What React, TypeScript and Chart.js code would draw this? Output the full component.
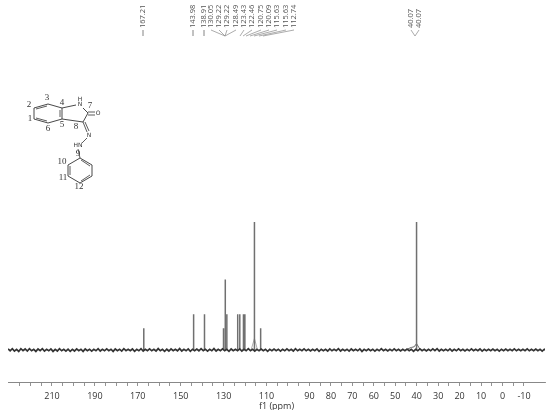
import React, { useEffect, useRef } from "react";
import { Chart, registerables } from "chart.js";

Chart.register(...registerables);

const peakPpm = [167.21, 143.98, 138.91, 130.05, 129.22, 128.49, 123.43, 122.46, 120.75, 120.09, 115.63, 112.74, 40.07];
const peakHeight = [17, 28, 28, 17, 55, 28, 28, 28, 28, 28, 100, 17, 100];
const shoulderPpm = [117.2, 115.63, 114.2];
const shoulderHeight = [0, 9, 0];
const solventPpm = [44, 42.5, 41.2, 40.07, 39, 38.2];
const solventHeight = [1, 2, 2.5, 5, 2, 0];
const baselineStartPpm = 230.5;
const baselineNoise = [
  0.8,-0.6,1,-0.9,0.5,-1.1,1,-0.5,0.8,-0.8,1,-0.6,0.5,-1.1,0.8,-0.5,1,-0.9,0.5,-0.6,0.9,-1.1,0.5,-0.8,1,-0.6,0.5,-0.9,0.6,-1,
  0.5,-0.8,0.9,-0.5,0.6,-1.1,0.8,-0.5,0.6,-0.9,0.5,-0.6,1,-0.8,0.5,-0.6,0.9,-0.5,0.6,-1.1,0.8,-0.5,0.6,-0.9,1,-0.5,0.6,-0.6,0.8,-1,
  0.5,-0.6,1,-0.8,0.6,-0.5,0.9,-0.6,0.5,-0.8,1.1,-0.6,0.5,-1,0.6,-0.8,0.9,-0.5,0.6,-0.6,1.1,-0.8,0.5,-0.6,0.9,-1,0.6,-0.5,0.8,-0.6,
  1,-0.5,0.6,-0.9,0.5,-0.6,1.1,-0.8,0.6,-0.5,0.9,-0.6,0.5,-1,0.8,-0.6,0.5,-0.6,0.9,-0.8,0.5,-0.6,1,-0.5,0.6,-0.9,0.5,-0.6,0.8,-0.5,
  0.6,-1.1,0.5,-0.6,0.8,-0.5,0.6,-0.9,0.5,-0.6,0.9,-0.5,0.6,-0.8,1,-0.6,0.5,-0.5,0.9,-0.6,0.5,-0.8,0.6,-0.5,0.9,-1,0.6,-0.5,0.5,-0.8,
  0.9,-0.6,0.5,-0.5,1,-0.8,0.6,-0.5,0.6,-0.9,0.8,-0.6,0.5,-0.6,0.9,-1.1,0.5,-0.6,0.8,-0.5,0.6,-0.9,0.5,-0.6,1,-0.5,0.6,-0.8,0.5,-0.6,
  0.9,-0.5,0.6,-0.8,0.5,-0.6,0.8,-0.5,0.6,-1,0.5,-0.6,0.9,-0.5,0.6,-0.8,0.5,-0.6,0.9,-0.5,1,-0.8,0.6,-0.5,0.5,-0.6,0.9,-0.8,0.5,-0.6,
  0.9,-0.5,0.6,-0.8,0.5,-0.6,0.9,-0.5,0.6,-0.6,0.8,-0.9,0.5,-0.6,0.5,-0.5,0.8,-0.6,0.5,-0.9,0.6,-0.5,0.8,-0.6,0.5,-0.5,0.9,-0.6,0.5,-0.6,
  0.6,-0.5,0.9,-0.6,0.5,-0.5,0.8,-0.6,0.5,-0.9,0.6,-0.5,0.4,
];
const tickLabels = [210, 190, 170, 150, 130, 110, 90, 80, 70, 60, 50, 40, 30, 20, 10, 0, -10];
const axisTitle = "f1 (ppm)";
const mainLabels = ["167.21", "143.98", "138.91"];
const groupLabels = ["130.05", "129.22", "129.22", "128.49", "123.43", "122.46", "120.75", "120.09", "115.63", "115.63", "112.74"];
const solventLabels = ["40.07", "40.07"];
const atomNumbers: [string, number, number][] = [
  ["1", 30, 119], ["2", 29, 105], ["3", 47, 98], ["4", 62, 103], ["5", 62, 125], ["6", 48, 129],
  ["7", 90, 106], ["8", 76, 127], ["9", 78, 154], ["10", 62, 162], ["11", 63, 178], ["12", 79, 187],
];
const atomSymbols: [string, number, number][] = [
  ["H", 80, 99], ["N", 80, 104], ["O", 98, 113], ["N", 89, 135], ["HN", 78, 145],
];

const annotations = {
  id: "annotations",
  afterDraw(chart: Chart) {
    const c = chart.ctx;
    c.save();
    const seg = (pts: number[][], color = "#666", w = 0.8) => {
      c.strokeStyle = color;
      c.lineWidth = w;
      c.beginPath();
      pts.forEach(([x, y], i) => (i ? c.lineTo(x, y) : c.moveTo(x, y)));
      c.stroke();
    };
    const vText = (t: string, x: number, bottom: number) => {
      c.save();
      c.translate(x, bottom);
      c.rotate(-Math.PI / 2);
      c.textAlign = "left";
      c.textBaseline = "middle";
      c.fillStyle = "#555";
      c.font = "7.5px 'Open Sans'";
      c.fillText(t, 0, 0);
      c.restore();
    };
    vText(mainLabels[0], 143, 28);
    vText(mainLabels[1], 193, 28);
    vText(mainLabels[2], 204, 28);
    seg([[143, 30], [143, 36]]);
    seg([[193, 30], [193, 36]]);
    seg([[204, 30], [204, 36]]);
    const gx = [211, 219, 227, 236, 244, 252, 261, 269, 277, 286, 294];
    groupLabels.forEach((t, i) => vText(t, gx[i], 28));
    for (let i = 0; i < 4; i++) seg([[gx[i], 30], [225, 36]], "#888", 0.7);
    const ends = [240, 243, 246, 250, 254, 259, 263];
    for (let i = 4; i < 11; i++) seg([[gx[i], 30], [ends[i - 4], 36]], "#888", 0.7);
    vText(solventLabels[0], 411, 28);
    vText(solventLabels[1], 419, 28);
    seg([[411, 30], [415, 36], [419, 30]], "#888", 0.7);

    const bond = "#333";
    seg([[62, 108], [48, 104], [34, 108], [34, 119], [48, 123], [62, 119], [62, 108]], bond, 0.9);
    seg([[47, 106], [36, 109]], bond);
    seg([[36, 118], [47, 121]], bond);
    seg([[60, 110], [60, 117]], bond);
    seg([[62, 108], [76, 105]], bond, 0.9);
    seg([[83, 108], [88, 113], [83, 122], [62, 119]], bond, 0.9);
    seg([[88, 112], [95, 112]], bond);
    seg([[88, 115], [95, 115]], bond);
    seg([[83, 122], [87, 132]], bond);
    seg([[85, 122], [89, 131]], bond);
    seg([[87, 138], [82, 143]], bond);
    seg([[78, 149], [80, 158]], bond);
    seg([[80, 158], [68, 165], [68, 176], [80, 183], [92, 176], [92, 165], [80, 158]], bond, 0.9);
    seg([[70, 166], [70, 175]], bond);
    seg([[81, 181], [90, 175]], bond);
    seg([[81, 160], [90, 166]], bond);

    c.textAlign = "center";
    c.textBaseline = "middle";
    c.fillStyle = "#333";
    c.font = "6px 'DejaVu Sans'";
    atomSymbols.forEach(([t, x, y]) => c.fillText(t, x, y));
    c.font = "9px 'Liberation Serif'";
    atomNumbers.forEach(([t, x, y]) => c.fillText(t, x, y));
    c.restore();
  },
};

export default function App() {
  const ref = useRef<HTMLCanvasElement>(null);
  useEffect(() => {
    const sticks: { x: number; y: number | null }[] = [];
    peakPpm.forEach((p, i) => {
      sticks.push({ x: p, y: 0 }, { x: p, y: peakHeight[i] }, { x: p, y: null });
    });
    const baseline = baselineNoise.map((v, i) => ({ x: baselineStartPpm - i, y: v }));
    const chart = new Chart(ref.current!, {
      type: "line",
      data: {
        datasets: [
          { data: baseline, borderColor: "#333", borderWidth: 1.7, pointRadius: 0 },
          { data: sticks, borderColor: "#707070", borderWidth: 1.5, pointRadius: 0, spanGaps: false },
          { data: shoulderPpm.map((x, i) => ({ x, y: shoulderHeight[i] })), borderColor: "#999", borderWidth: 0.8, pointRadius: 0 },
          { data: solventPpm.map((x, i) => ({ x, y: solventHeight[i] })), borderColor: "#666", borderWidth: 1, pointRadius: 0 },
        ],
      },
      options: {
        animation: false,
        responsive: false,
        layout: { padding: { left: 8, right: 5, top: 222, bottom: 0 } },
        plugins: { legend: { display: false }, tooltip: { enabled: false } },
        scales: {
          x: {
            type: "linear",
            reverse: true,
            min: -19.8,
            max: 230.5,
            afterBuildTicks(axis: any) {
              axis.ticks = axis.ticks.filter((t: any) => t.value % 5 === 0);
            },
            afterFit(axis: any) {
              axis.height = 28;
            },
            ticks: {
              stepSize: 5,
              autoSkip: false,
              maxRotation: 0,
              minRotation: 0,
              padding: 5,
              color: "#333",
              font: { family: "'Open Sans'", size: 9 },
              callback: (v: any) => (tickLabels.includes(Number(v)) ? String(v) : ""),
            },
            grid: { drawOnChartArea: false, color: "#777", tickLength: 4, lineWidth: 0.8 },
            border: { color: "#888", width: 1 },
            title: { display: true, text: axisTitle, color: "#333", font: { family: "'Open Sans'", size: 9 }, padding: { top: 0, bottom: -2 } },
          },
          y: { display: false, min: -25, max: 100 },
        },
      },
      plugins: [annotations],
    } as any);
    return () => chart.destroy();
  }, []);
  return (
    <div style={{ position: "fixed", left: 0, top: 0, width: 550, height: 410, background: "#fff" }}>
      <canvas ref={ref} width={550} height={410} style={{ display: "block", filter: "blur(0.4px)" }} />
    </div>
  );
}
